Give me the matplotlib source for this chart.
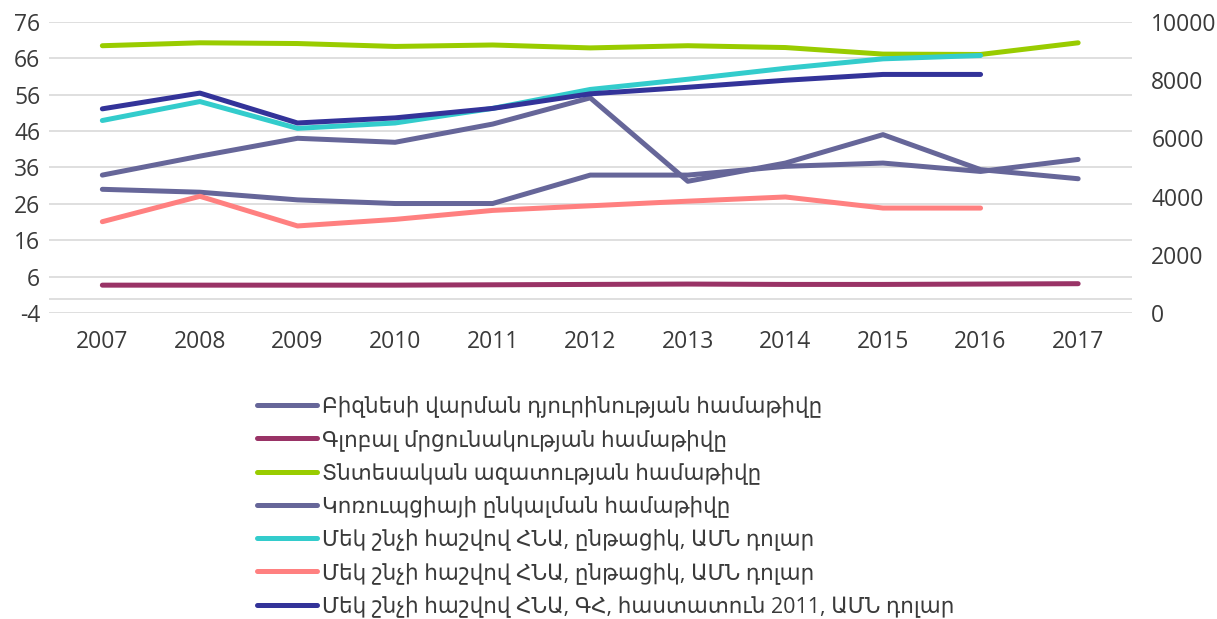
import matplotlib.pyplot as plt
import numpy as np

years = ['2007', '2008', '2009', '2010', '2011', '2012', '2013', '2014', '2015', '2016', '2017']

# left axis (index values)
business = [33.9, 39.1, 44.0, 42.9, 47.9, 55.1, 32.2, 37.2, 45.0, 35.4, 32.9]
gci = [3.7, 3.7, 3.7, 3.7, 3.8, 3.9, 4.0, 3.9, 3.9, 4.0, 4.1]
freedom = [69.4, 70.2, 70.0, 69.2, 69.6, 68.8, 69.4, 68.9, 67.1, 67.0, 70.2]
corruption = [30.0, 29.2, 27.1, 26.1, 26.1, 33.9, 33.9, 36.3, 37.2, 34.9, 38.2]

# right axis (USD)
gdp_ppp = [6610, 7260, 6340, 6525, 7025, 7675, 8025, 8400, 8725, 8840]
gdp_cur = [3139, 4010, 2993, 3218, 3526, 3684, 3843, 3987, 3607, 3606]
gdp_ppp11 = [7010, 7550, 6525, 6700, 7025, 7525, 7750, 7990, 8190, 8190]

labels = ['Բիզնեսի վարման դյուրինության համաթիվը',
          'Գլոբալ մրցունակության համաթիվը',
          'Տնտեսական ազատության համաթիվը',
          'Կոռուպցիայի ընկալման համաթիվը',
          'Մեկ շնչի հաշվով ՀՆԱ, ընթացիկ, ԱՄՆ դոլար',
          'Մեկ շնչի հաշվով ՀՆԱ, ընթացիկ, ԱՄՆ դոլար',
          'Մեկ շնչի հաշվով ՀՆԱ, ԳՀ, հաստատուն 2011, ԱՄՆ դոլար']

colors = ['#666699', '#993366', '#99CC00', '#666699', '#33CCCC', '#FF8080', '#333399']

plt.rcParams['font.family'] = ['Open Sans', 'DejaVu Sans']
plt.rcParams['axes.unicode_minus'] = False

fig = plt.figure(figsize=(12.17, 6.19), dpi=100)
ax = fig.add_axes([0.040, 0.494, 0.890, 0.471])
ax2 = ax.twinx()

x = np.arange(len(years))
lw = 3.6
lines = []
for vals, c in zip([business, gci, freedom, corruption], colors[:4]):
    l, = ax.plot(x, vals, color=c, lw=lw, solid_capstyle='round', solid_joinstyle='round')
    lines.append(l)
for vals, c in zip([gdp_ppp, gdp_cur, gdp_ppp11], colors[4:]):
    l, = ax2.plot(x[:len(vals)], vals, color=c, lw=lw, solid_capstyle='round', solid_joinstyle='round')
    lines.append(l)

ax.set_xlim(-0.55, 10.55)
ax.set_ylim(-4, 76)
ax.set_yticks(np.arange(-4, 77, 10))
ax2.set_ylim(0, 10000)
ax2.set_yticks(np.arange(0, 10001, 2000))
ax.set_xticks(x)
ax.set_xticklabels(years)

ax.grid(axis='y', color='#D9D9D9', lw=1.2)
ax.axhline(0, color='#D9D9D9', lw=1.2)
ax.set_axisbelow(True)
for a in (ax, ax2):
    for s in a.spines.values():
        s.set_visible(False)
    a.tick_params(length=0, labelsize=16.5, colors='#3A3A3A')
ax.tick_params(axis='x', pad=12)
ax.tick_params(axis='y', pad=6)
ax2.tick_params(axis='y', pad=14)

fig.legend(lines, labels, loc='upper left', bbox_to_anchor=(0.195, 0.392),
           frameon=False, fontsize=15.5, handlelength=2.8, handletextpad=0.25,
           labelspacing=0.53, labelcolor='#3A3A3A')

fig.savefig('out.png', dpi=100)
